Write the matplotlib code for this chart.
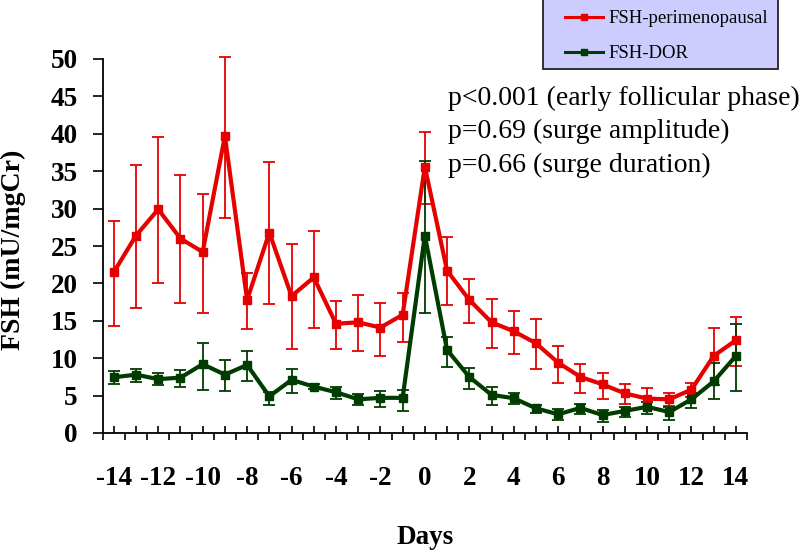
import matplotlib
matplotlib.use("Agg")
import matplotlib.pyplot as plt
from matplotlib.ticker import FixedLocator, FixedFormatter
from matplotlib.lines import Line2D
from matplotlib.patches import Rectangle

# Data
days = list(range(-14, 15))

peri_mean = [21.5, 26.4, 29.9, 26.0, 24.2, 39.7, 17.8, 26.8, 18.3, 20.8,
             14.6, 14.8, 14.1, 15.8, 35.6, 21.7, 17.8, 14.8, 13.6, 12.0,
             9.4, 7.5, 6.5, 5.3, 4.6, 4.5, 5.8, 10.3, 12.4]
peri_upper = [28.3, 35.8, 39.6, 34.5, 31.9, 50.3, 21.4, 36.2, 25.3, 27.0,
              17.6, 18.4, 17.4, 18.7, 40.3, 26.2, 20.6, 17.9, 16.3, 15.2,
              11.6, 9.2, 8.0, 6.6, 6.0, 5.4, 6.7, 14.1, 15.5]
peri_lower = [14.3, 16.7, 20.1, 17.4, 16.1, 28.7, 13.9, 17.2, 11.2, 14.1,
              11.2, 10.9, 10.3, 12.2, 30.6, 17.1, 14.7, 11.4, 10.5, 8.6,
              6.7, 5.4, 4.5, 3.9, 3.4, 3.6, 4.8, 6.4, 9.0]

dor_mean = [7.45, 7.8, 7.2, 7.4, 9.2, 7.8, 9.1, 4.9, 7.1, 6.2,
            5.45, 4.5, 4.7, 4.7, 26.4, 11.1, 7.5, 5.1, 4.65, 3.3,
            2.5, 3.35, 2.4, 2.95, 3.5, 2.8, 4.5, 6.9, 10.3]
dor_upper = [8.25, 8.6, 8.0, 8.4, 12.0, 9.7, 11.0, 5.5, 8.6, 6.5,
             6.2, 5.2, 5.6, 5.8, 36.4, 12.8, 8.75, 6.2, 5.3, 3.8,
             3.2, 3.9, 3.1, 3.5, 4.15, 3.5, 5.3, 9.3, 14.6]
dor_lower = [6.6, 6.8, 6.4, 6.2, 5.8, 5.6, 7.0, 3.8, 5.3, 5.9,
             4.5, 3.7, 3.5, 3.0, 16.1, 8.8, 5.9, 3.8, 3.9, 2.7,
             1.7, 2.5, 1.5, 2.1, 2.5, 1.8, 3.4, 4.5, 5.6]

tick_labels = [str(d) if d % 2 == 0 else "" for d in days]
series_names = ["FSH-perimenopausal", "FSH-DOR"]
p_texts = ["p<0.001 (early follicular phase)",
           "p=0.69 (surge amplitude)",
           "p=0.66 (surge duration)"]

red = "#e60000"
green = "#003c00"
serif = "Liberation Serif"

W, H = 800, 552
fig = plt.figure(figsize=(W / 100, H / 100), dpi=100)
ax = fig.add_axes([102.7 / W, 1 - 433 / H, (747 - 102.7) / W, (433 - 59) / H])


def draw(mean, upper, lower, color):
    yerr = [[m - lo for m, lo in zip(mean, lower)],
            [up - m for m, up in zip(mean, upper)]]
    cont = ax.errorbar(days, mean, yerr=yerr, color=color, lw=3, marker="s",
                       ms=6, elinewidth=1.3, capsize=4, capthick=1.3)
    for art in cont.get_children():
        art.set_clip_on(False)


draw(peri_mean, peri_upper, peri_lower, red)
draw(dor_mean, dor_upper, dor_lower, green)

ax.set_xlim(-14.5, 14.5)
ax.set_ylim(0, 50)
ax.spines["top"].set_visible(False)
ax.spines["right"].set_visible(False)
for s in ("left", "bottom"):
    ax.spines[s].set_linewidth(1.3)

ax.xaxis.set_major_locator(FixedLocator(days))
ax.xaxis.set_major_formatter(FixedFormatter(tick_labels))
ax.xaxis.set_minor_locator(FixedLocator([d + 0.5 for d in range(-15, 15)]))
ax.tick_params(axis="x", which="major", direction="in", length=5, width=1.2, pad=24)
ax.tick_params(axis="x", which="minor", direction="out", length=5, width=1.2)
ax.set_yticks(range(0, 51, 5))
ax.tick_params(axis="y", direction="out", length=7, width=1.2, pad=11)
for lab in ax.get_xticklabels() + ax.get_yticklabels():
    lab.set_fontfamily(serif)
    lab.set_fontweight("bold")
    lab.set_fontsize(19.5)

ax.set_ylabel("FSH (mU/mgCr)", fontfamily=serif, fontweight="bold", fontsize=20)
ax.yaxis.set_label_coords(-(102.7 - 13) / (747 - 102.7), 0.49)
ax.yaxis.label.set_va("center")
fig.text(425 / W, 1 - 538 / H, "Days", fontfamily=serif, fontweight="bold",
         fontsize=19.5, ha="center", va="center")

for i, t in enumerate(p_texts):
    fig.text(448 / W, 1 - (105 + 33.5 * i) / H, t, fontfamily=serif, fontsize=20,
             ha="left", va="baseline")

# legend box
fig.patches.append(Rectangle((543 / W, 1 - 69 / H), (778 - 543) / W, 69 / H + 0.01,
                             transform=fig.transFigure, facecolor="#ccccff",
                             edgecolor="#222222", linewidth=1.3, zorder=1))
handles = [Line2D([], [], color=red, lw=2.2, marker="s", ms=5),
           Line2D([], [], color=green, lw=2.2, marker="s", ms=5)]
fig.legend(handles, series_names, loc="upper left",
           bbox_to_anchor=(565 / W, 1 - 10 / H),
           prop={"family": serif, "size": 13.5}, frameon=False,
           handlelength=2.0, labelspacing=0.95, borderpad=0,
           handletextpad=0.3, borderaxespad=0)

fig.savefig("out.png", dpi=100)
